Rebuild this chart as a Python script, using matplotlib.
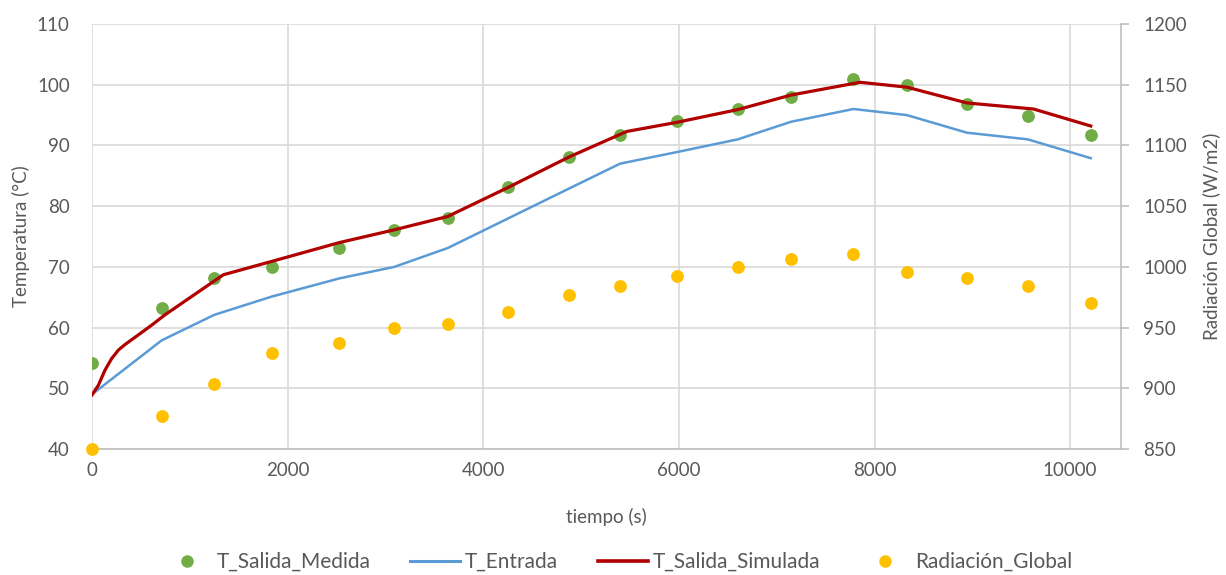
import matplotlib
matplotlib.use("Agg")
import matplotlib.pyplot as plt
from matplotlib.lines import Line2D

plt.rcParams['font.family'] = ['Lato', 'DejaVu Sans']

# ---- data ----
t_medida = [0, 713, 1251, 1837, 2529, 3091, 3637, 4257, 4877, 5399, 5978, 6602, 7147, 7785, 8330, 8944, 9567, 10211]
T_salida_medida = [54.1, 63.2, 68.2, 70.0, 73.1, 76.0, 78.0, 83.1, 88.1, 91.8, 94.1, 96.0, 98.0, 100.9, 100.0, 96.8, 94.9, 91.7]

t_entrada = [0, 713, 1251, 1837, 2529, 3091, 3637, 4257, 4877, 5399, 5978, 6602, 7147, 7785, 8330, 8944, 9567, 10211]
T_entrada = [49.0, 57.9, 62.1, 65.1, 68.1, 70.0, 73.1, 78.0, 82.9, 87.0, 88.9, 91.0, 93.9, 96.0, 95.0, 92.1, 91.0, 87.9]

t_simulada = [0, 65, 133, 201, 270, 337, 474, 610, 746, 1343, 1837, 2529, 3091, 3637, 4257, 4877, 5467, 5978, 6602, 7147, 7853, 8330, 8944, 9625, 10211]
T_salida_simulada = [48.9, 50.5, 53.0, 54.9, 56.3, 57.2, 58.8, 60.4, 62.1, 68.7, 70.9, 74.0, 76.1, 78.3, 83.1, 88.1, 92.3, 93.8, 95.9, 98.3, 100.4, 99.6, 97.0, 96.0, 93.2]

t_rad = [0, 713, 1251, 1837, 2529, 3091, 3637, 4257, 4877, 5399, 5978, 6602, 7147, 7785, 8330, 8944, 9567, 10211]
radiacion_global = [850, 877.4, 903.3, 928.8, 937.6, 949.9, 952.9, 962.5, 976.8, 984.4, 992.5, 1000.1, 1006.5, 1010.6, 995.5, 991.1, 984.5, 970.5]

x_ticks = [0, 2000, 4000, 6000, 8000, 10000]
y_left_ticks = [40, 50, 60, 70, 80, 90, 100, 110]
y_right_ticks = [850, 900, 950, 1000, 1050, 1100, 1150, 1200]

# ---- style ----
GREEN = '#70AD47'
BLUE = '#5B9BD5'
RED = '#B00000'
YELLOW = '#FFC000'
TXT = '#595959'
GRID = '#D9D9D9'
AXLINE = '#BFBFBF'
FS = 13.5
LFS = 15

fig = plt.figure(figsize=(12.26, 5.75), dpi=100)
ax = fig.add_axes([92/1226, 1-449/575, (1121-92)/1226, (449-24)/575])
ax2 = ax.twinx()

ax.scatter(t_medida, T_salida_medida, s=85, color=GREEN, zorder=3, linewidths=0)
ax.plot(t_entrada, T_entrada, color=BLUE, lw=1.8, zorder=4, solid_joinstyle='round')
ax.plot(t_simulada, T_salida_simulada, color=RED, lw=2.3, zorder=5, solid_joinstyle='round')
ax2.scatter(t_rad, radiacion_global, s=85, color=YELLOW, zorder=3, linewidths=0, clip_on=False)

ax.set_xlim(0, 10520)
ax.set_ylim(40, 110)
ax2.set_ylim(850, 1200)
ax.set_xticks(x_ticks)
ax.set_xticklabels([str(v) for v in x_ticks])
ax.set_yticks(y_left_ticks)
ax2.set_yticks(y_right_ticks)

ax.grid(True, color=GRID, lw=1.2)
ax.set_axisbelow(True)
for a in (ax, ax2):
    for s in a.spines.values():
        s.set_visible(False)
ax.spines['bottom'].set_visible(True)
ax.spines['bottom'].set_color(AXLINE)
ax.spines['bottom'].set_linewidth(1.2)
ax2.spines['right'].set_visible(True)
ax2.spines['right'].set_color(AXLINE)
ax2.spines['right'].set_linewidth(1.2)

ax.tick_params(axis='y', length=0, pad=16, labelsize=FS, labelcolor=TXT)
ax.tick_params(axis='x', length=0, pad=9, labelsize=FS, labelcolor=TXT)
ax2.tick_params(axis='y', length=6, width=1.2, color=AXLINE, pad=10, labelsize=FS, labelcolor=TXT)

ax.set_ylabel('Temperatura (°C)', fontsize=FS, color=TXT, va='center', ha='center')
ax.yaxis.set_label_coords(-0.069, 0.5)
ax2.set_ylabel('Radiación Global (W/m2)', fontsize=FS, color=TXT, rotation=90, va='center', ha='center')
ax2.yaxis.set_label_coords(1.088, 0.5)
ax.set_xlabel('tiempo (s)', fontsize=FS, color=TXT, va='center', ha='center')
ax.xaxis.set_label_coords(0.5, -0.16)

handles = [
    Line2D([], [], ls='none', marker='o', markersize=9, color=GREEN, markeredgewidth=0),
    Line2D([], [], color=BLUE, lw=2.2),
    Line2D([], [], color=RED, lw=2.6),
    Line2D([], [], ls='none', marker='o', markersize=9, color=YELLOW, markeredgewidth=0),
]
labels = ['T_Salida_Medida', 'T_Entrada', 'T_Salida_Simulada', 'Radiación_Global']
leg = fig.legend(handles, labels, loc='center', bbox_to_anchor=(617/1226, 1-562/575),
                 ncol=4, frameon=False, fontsize=LFS, handlelength=2.4,
                 handletextpad=0.24, columnspacing=1.9, borderpad=0.0)
for t in leg.get_texts():
    t.set_color(TXT)

fig.savefig('out.png', dpi=100, facecolor='white')
